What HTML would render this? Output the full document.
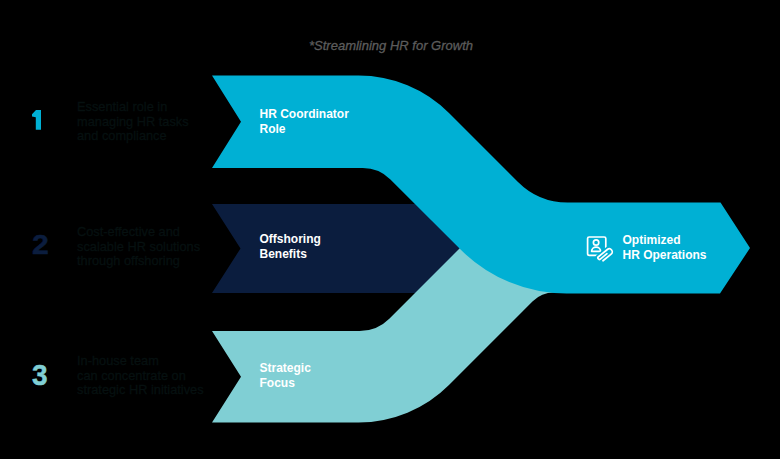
<!DOCTYPE html>
<html>
<head>
<meta charset="utf-8">
<style>
html,body{margin:0;padding:0;}
body{width:780px;height:459px;overflow:hidden;position:relative;background:#000;font-family:"Liberation Sans",sans-serif;}
svg{position:absolute;left:0;top:0;}
.t{position:absolute;white-space:nowrap;}
.num{font-weight:bold;font-size:28px;line-height:28px;}
.desc{font-size:12.8px;line-height:14.7px;color:#061010;-webkit-text-stroke:0.3px #061010;}
.lab{font-weight:bold;font-size:12px;line-height:15px;color:#fff;}
.title{font-style:italic;font-size:13px;line-height:15px;color:#5c5c5c;-webkit-text-stroke:0.3px #5c5c5c;}
</style>
</head>
<body>
<svg width="780" height="459" viewBox="0 0 780 459">
  <!-- navy band -->
  <path d="M212 204 L470 204 L470 293 L212 293 L240.5 248.5 Z" fill="#0b1d3e"/>
  <!-- teal band (mirror of cyan about y=249) -->
  <path d="M212 331 L359.60 331.00 A42 42 0 0 0 389.30 318.70 L493.00 215 L600 215 L600 292.5 L553.93 292.50 A30 30 0 0 0 532.71 301.29 L448.99 385.01 A128 128 0 0 1 358.48 422.50 L212 422.5 L241 376.75 Z" fill="#80cfd4"/>
  <!-- cyan band + arrow -->
  <path d="M212 75.5 L358.48 75.50 A128 128 0 0 1 448.99 112.99 L518.00 182.00 A70 70 0 0 0 567.49 202.50 L720.5 202.5 L750 248.0 L720.0 293.5 L566.63 293.50 A150 150 0 0 1 460.57 249.57 L390.42 179.42 A39 39 0 0 0 362.85 168.00 L212 168 L241 121.75 Z" fill="#00b0d4"/>
</svg>

<div class="t title" style="left:309px;top:38px;">*Streamlining HR for Growth</div>

<svg width="780" height="459" viewBox="0 0 780 459" style="left:0;top:0;"><path d="M36 110 L32 114.2 L32 116.4 L35.8 117.3 L35.8 129.8 L41 129.8 L41 110 Z" fill="#00b0d4"/></svg>
<div class="t num" style="left:31.8px;top:231px;color:#0b1d3e;-webkit-text-stroke:0.5px #0b1d3e;transform:scaleX(1.08);transform-origin:0 0;">2</div>
<div class="t num" style="left:31.6px;top:359.5px;font-size:29.5px;line-height:29.5px;color:#80cfd4;-webkit-text-stroke:0.5px #80cfd4;transform:scaleX(0.95);transform-origin:0 0;">3</div>

<div class="t desc" style="left:77px;top:100px;">Essential role in<br>managing HR tasks<br>and compliance</div>
<div class="t desc" style="left:77px;top:225px;">Cost-effective and<br>scalable HR solutions<br>through offshoring</div>
<div class="t desc" style="left:77px;top:354px;">In-house team<br>can concentrate on<br>strategic HR initiatives</div>

<div class="t lab" style="left:259.5px;top:107px;">HR Coordinator<br>Role</div>
<div class="t lab" style="left:259.5px;top:232px;">Offshoring<br>Benefits</div>
<div class="t lab" style="left:259.5px;top:361px;">Strategic<br>Focus</div>
<div class="t lab" style="left:622.5px;top:233px;">Optimized<br>HR Operations</div>

<svg width="780" height="459" viewBox="0 0 780 459" style="left:0;top:0;">
  <rect x="587.6" y="237" width="18.2" height="18.4" rx="1.6" fill="none" stroke="#fff" stroke-width="1.7"/>
  <circle cx="596.1" cy="242.5" r="2.7" fill="none" stroke="#fff" stroke-width="1.7"/>
  <path d="M591.6 251.3 A4.5 4.2 0 0 1 600.6 251.3 Z" fill="none" stroke="#fff" stroke-width="1.7" stroke-linejoin="round"/>
  <g transform="translate(604.6 255.6) rotate(-39)">
    <path d="M3 0 H-5.5 A1.5 1.5 0 0 1 -5.5 -3 H6 A3 3 0 0 1 6 3 H-4.5" fill="none" stroke="#00b0d4" stroke-width="5" stroke-linecap="round"/>
    <path d="M-8 -3.5 H8 V3.5 H-8 Z" fill="#00b0d4"/>
    <path d="M3 0 H-5.5 A1.5 1.5 0 0 1 -5.5 -3 H6 A3 3 0 0 1 6 3 H-4.5" fill="none" stroke="#fff" stroke-width="1.7" stroke-linecap="round"/>
  </g>
</svg>
</body>
</html>
